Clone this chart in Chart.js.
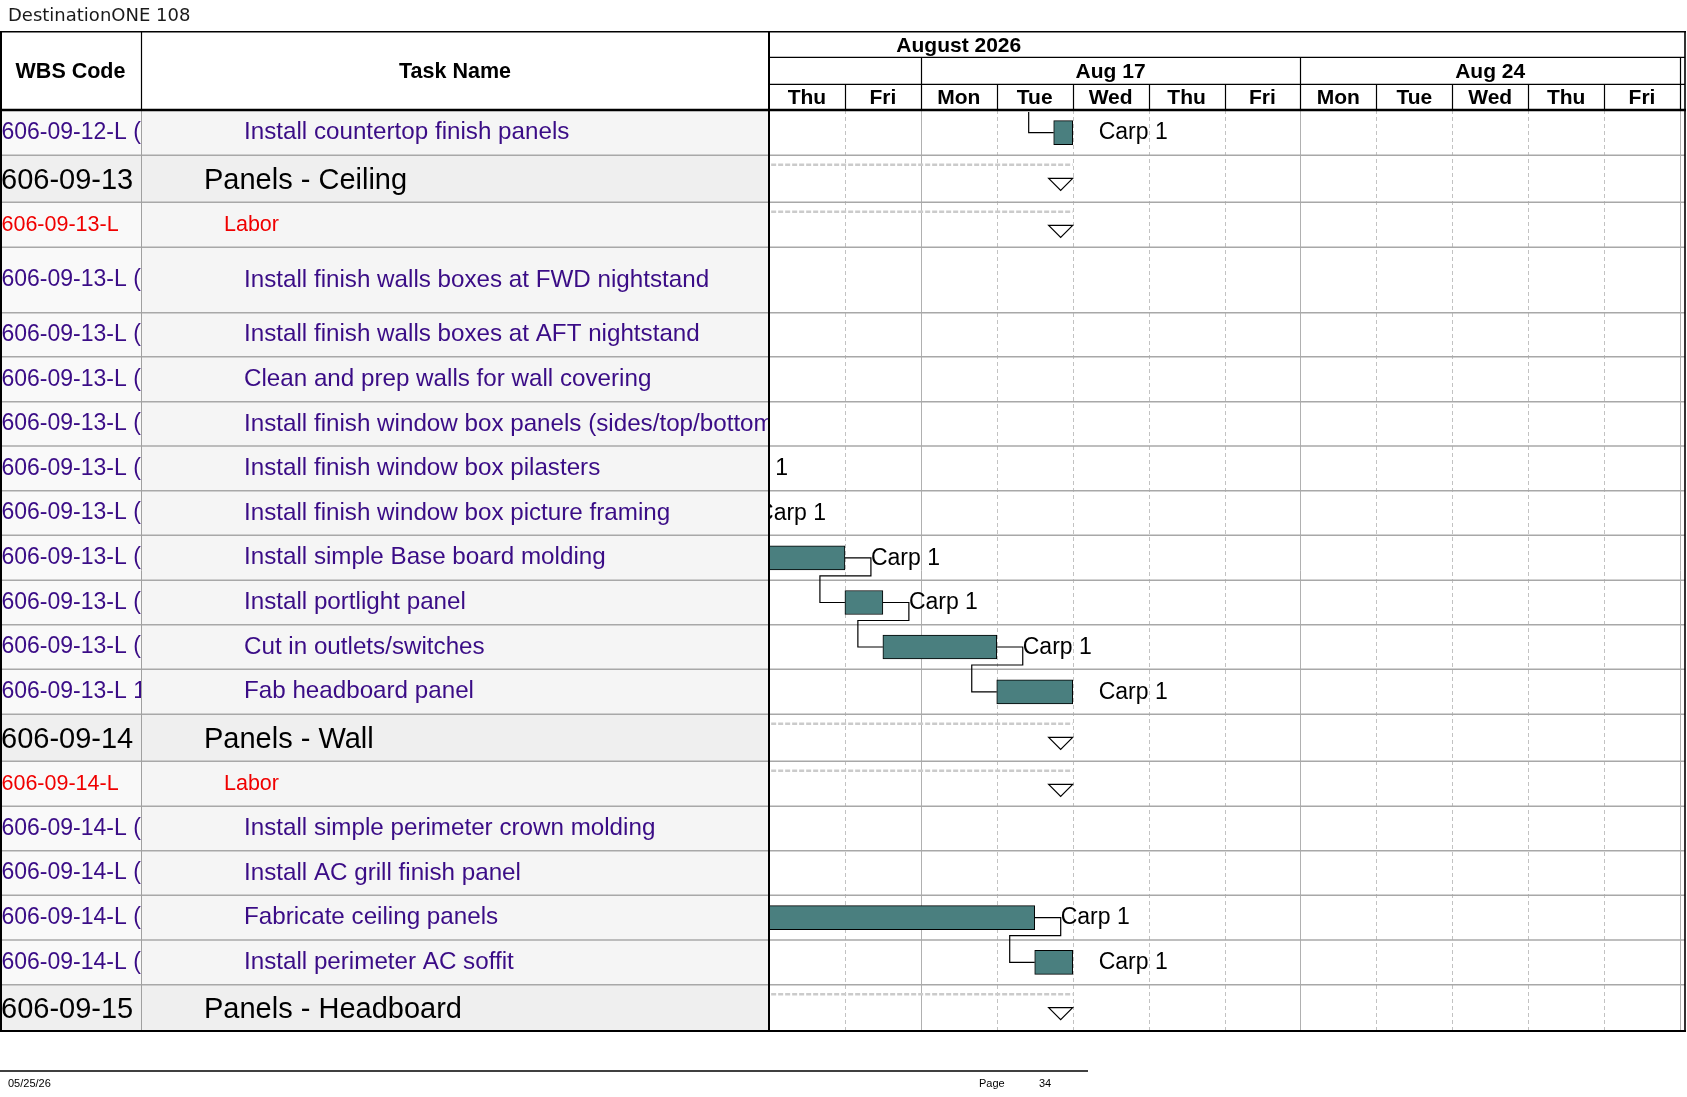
<!DOCTYPE html>
<html>
<head>
<meta charset="utf-8">
<script src="https://cdn.jsdelivr.net/npm/chart.js@4.4.1/dist/chart.umd.min.js"></script>
<style>
html,body{margin:0;padding:0;background:#fff;overflow:hidden}
canvas{display:block}
</style>
</head>
<body>
<canvas id="gantt" width="1687" height="1097"></canvas>
<script>
// rows of the page, top to bottom
var wbsCodes = ['606-09-12-L (', '606-09-13', '606-09-13-L', '606-09-13-L (', '606-09-13-L (',
  '606-09-13-L (', '606-09-13-L (', '606-09-13-L (', '606-09-13-L (', '606-09-13-L (',
  '606-09-13-L (', '606-09-13-L (', '606-09-13-L 1', '606-09-14', '606-09-14-L',
  '606-09-14-L (', '606-09-14-L (', '606-09-14-L (', '606-09-14-L (', '606-09-15'];
var taskNames = ['Install countertop finish panels', 'Panels - Ceiling', 'Labor',
  'Install finish walls boxes at FWD nightstand', 'Install finish walls boxes at AFT nightstand',
  'Clean and prep walls for wall covering', 'Install finish window box panels (sides/top/bottom)',
  'Install finish window box pilasters', 'Install finish window box picture framing',
  'Install simple Base board molding', 'Install portlight panel', 'Cut in outlets/switches',
  'Fab headboard panel', 'Panels - Wall', 'Labor', 'Install simple perimeter crown molding',
  'Install AC grill finish panel', 'Fabricate ceiling panels', 'Install perimeter AC soffit',
  'Panels - Headboard'];
var rowKinds = ['task', 'summary', 'labor', 'task', 'task', 'task', 'task', 'task', 'task', 'task',
  'task', 'task', 'task', 'summary', 'labor', 'task', 'task', 'task', 'task', 'summary'];

// bars, in working days from Thu Aug 13 (0) to end of Fri Aug 28 (12)
var barStart = [3.75, null, null, null, null, null, null, -1.5, -1, -0.5, 1, 1.5, 3, null, null, null, null, -1, 3.5, null];
var barEnd   = [4,    null, null, null, null, null, null, -1, -0.5, 1, 1.5, 3, 4, null, null, null, null, 3.5, 4, null];
var resources = ['Carp 1', '', '', '', '', '', '', 'Carp 1', 'Carp 1', 'Carp 1', 'Carp 1', 'Carp 1', 'Carp 1',
  '', '', '', '', 'Carp 1', 'Carp 1', ''];
var summaryStart  = [null, -2, -2, null, null, null, null, null, null, null, null, null, null, -2, -2, null, null, null, null, -2];
var summaryFinish = [null, 4, 4, null, null, null, null, null, null, null, null, null, null, 4, 4, null, null, null, null, 4];

// finish-to-start links [predecessor row, successor row]; -1 = from the previous page
var links = [[-1, 0], [7, 8], [8, 9], [9, 10], [10, 11], [11, 12], [17, 18]];

// timescale
var dayLabels = ['Thu', 'Fri', 'Mon', 'Tue', 'Wed', 'Thu', 'Fri', 'Mon', 'Tue', 'Wed', 'Thu', 'Fri'];
var weekLabels = ['Aug 17', 'Aug 24'];
var weekFrom = [2, 7];
var weekTo = [7, 12];
var monthLabel = 'August 2026';
var monthLabelAt = 2.5;

// layout (pixels)
var rowHeights = [45.3, 47, 45, 65.4, 44, 45, 44.3, 44.7, 44.6, 45, 44.4, 44.6, 45, 47, 45, 44.4, 44.6, 44.7, 44.7, 46.3];
var LAY = {wbsR: 141, ganttL: 769, ganttR: 1680, right: 1685, top: 31.7, monthB: 57.3, weekB: 84.3, headB: 110, bottom: 1031};

var rowTop = [];
var acc = 0;
rowHeights.forEach(function (h) { rowTop.push(acc); acc += h; });
var totalH = acc;
var rowMid = rowHeights.map(function (h, i) { return rowTop[i] + h / 2; });

var barData = [];
for (var i = 0; i < barStart.length; i++) {
  if (barStart[i] !== null) barData.push({x: [barStart[i], barEnd[i]], y: rowMid[i]});
}

var PURPLE = '#3a0c86';
var RED = '#f00000';
var F = '"Liberation Sans", Arial, sans-serif';

function line(ctx, x1, y1, x2, y2) {
  ctx.beginPath();
  ctx.moveTo(x1, y1);
  ctx.lineTo(x2, y2);
  ctx.stroke();
}

var ganttFrame = {
  id: 'ganttFrame',
  beforeDraw: function (chart) {
    var ctx = chart.ctx, xs = chart.scales.x, ys = chart.scales.y, a = chart.chartArea;
    ctx.save();
    ctx.fillStyle = '#fff';
    ctx.fillRect(0, 0, chart.width, chart.height);

    // table cells
    for (var r = 0; r < rowHeights.length; r++) {
      var t = ys.getPixelForValue(rowTop[r]);
      var b = ys.getPixelForValue(rowTop[r] + rowHeights[r]);
      if (rowKinds[r] === 'summary') {
        ctx.fillStyle = '#efefef';
        ctx.fillRect(0, t, LAY.ganttL, b - t);
      } else {
        ctx.fillStyle = '#f9f9f9';
        ctx.fillRect(0, t, LAY.wbsR, b - t);
        ctx.fillStyle = '#f5f5f5';
        ctx.fillRect(LAY.wbsR, t, LAY.ganttL - LAY.wbsR, b - t);
      }
    }

    // day grid in the gantt body
    ctx.lineWidth = 1;
    for (var d = 1; d <= dayLabels.length; d++) {
      var x = Math.round(xs.getPixelForValue(d)) + 0.5;
      var weekEdge = weekFrom.indexOf(d) >= 0 || weekTo.indexOf(d) >= 0;
      ctx.strokeStyle = weekEdge ? '#b0b0b0' : '#c2c2c2';
      ctx.setLineDash(weekEdge ? [] : [4, 3]);
      line(ctx, x, a.top, x, a.bottom);
    }
    ctx.setLineDash([]);

    // row lines
    ctx.strokeStyle = '#a8a8a8';
    ctx.lineWidth = 1.5;
    for (var r2 = 1; r2 < rowHeights.length; r2++) {
      var y = ys.getPixelForValue(rowTop[r2]);
      line(ctx, 0, y, LAY.right, y);
    }
    ctx.strokeStyle = '#a0a0a0';
    ctx.lineWidth = 1;
    line(ctx, LAY.wbsR + 0.5, a.top, LAY.wbsR + 0.5, a.bottom);
    ctx.restore();
  },

  beforeDatasetsDraw: function (chart) {
    var ctx = chart.ctx, xs = chart.scales.x, ys = chart.scales.y, a = chart.chartArea;
    ctx.save();
    ctx.beginPath();
    ctx.rect(a.left + 1, a.top, a.right - a.left + 6, a.bottom - a.top);
    ctx.clip();

    // summary spans
    ctx.strokeStyle = '#cbcbcb';
    ctx.lineWidth = 2.5;
    ctx.setLineDash([5, 2]);
    for (var r = 0; r < summaryFinish.length; r++) {
      if (summaryFinish[r] === null) continue;
      var y = ys.getPixelForValue(rowTop[r]) + 9.5;
      line(ctx, xs.getPixelForValue(summaryStart[r]), y, xs.getPixelForValue(summaryFinish[r]), y);
    }
    ctx.setLineDash([]);

    // links
    ctx.strokeStyle = '#000';
    ctx.lineWidth = 1.2;
    links.forEach(function (l) {
      var s = l[1];
      var sx = xs.getPixelForValue(barStart[s]);
      var sy = ys.getPixelForValue(rowMid[s]);
      ctx.beginPath();
      if (l[0] < 0) {
        ctx.moveTo(sx - 25, a.top + 2);
      } else {
        var p = l[0];
        var px = xs.getPixelForValue(barEnd[p]);
        var py = ys.getPixelForValue(rowMid[p]);
        var drop = py + 18;
        ctx.moveTo(px, py);
        ctx.lineTo(px + 26, py);
        ctx.lineTo(px + 26, drop);
        ctx.lineTo(sx - 25, drop);
      }
      ctx.lineTo(sx - 25, sy);
      ctx.lineTo(sx, sy);
      ctx.stroke();
    });

    // resource labels
    ctx.fillStyle = '#000';
    ctx.font = '23px ' + F;
    ctx.textBaseline = 'middle';
    ctx.textAlign = 'left';
    for (var k = 0; k < barEnd.length; k++) {
      if (barEnd[k] === null || !resources[k]) continue;
      ctx.fillText(resources[k], xs.getPixelForValue(barEnd[k]) + 26, ys.getPixelForValue(rowMid[k]) + 0.5);
    }
    ctx.restore();
  },

  afterDatasetsDraw: function (chart) {
    var ctx = chart.ctx, xs = chart.scales.x, ys = chart.scales.y, a = chart.chartArea;
    ctx.save();

    // summary finish markers
    ctx.strokeStyle = '#000';
    ctx.fillStyle = '#fff';
    ctx.lineWidth = 1.2;
    for (var r = 0; r < summaryFinish.length; r++) {
      if (summaryFinish[r] === null) continue;
      var fx = xs.getPixelForValue(summaryFinish[r]);
      var ty = ys.getPixelForValue(rowTop[r]) + 23;
      ctx.beginPath();
      ctx.moveTo(fx - 24, ty);
      ctx.lineTo(fx, ty);
      ctx.lineTo(fx - 12, ty + 12);
      ctx.closePath();
      ctx.fill();
      ctx.stroke();
    }

    // table text
    ctx.textBaseline = 'middle';
    ctx.textAlign = 'left';
    for (var i = 0; i < wbsCodes.length; i++) {
      var t = ys.getPixelForValue(rowTop[i]);
      var b = ys.getPixelForValue(rowTop[i] + rowHeights[i]);
      var m = ys.getPixelForValue(rowMid[i]);
      var kind = rowKinds[i];
      ctx.save();
      ctx.beginPath();
      ctx.rect(0, t, LAY.wbsR, b - t);
      ctx.clip();
      if (kind === 'summary') { ctx.font = '29px ' + F; ctx.fillStyle = '#000'; ctx.fillText(wbsCodes[i], 1, m + 2.5); }
      else if (kind === 'labor') { ctx.font = '21.5px ' + F; ctx.fillStyle = RED; ctx.fillText(wbsCodes[i], 1.5, m + 0.5); }
      else { ctx.font = '23px ' + F; ctx.fillStyle = PURPLE; ctx.fillText(wbsCodes[i], 1.5, m); }
      ctx.restore();

      ctx.save();
      ctx.beginPath();
      ctx.rect(LAY.wbsR, t, LAY.ganttL - LAY.wbsR, b - t);
      ctx.clip();
      if (kind === 'summary') { ctx.font = '29px ' + F; ctx.fillStyle = '#000'; ctx.fillText(taskNames[i], 204, m + 2.5); }
      else if (kind === 'labor') { ctx.font = '21.5px ' + F; ctx.fillStyle = RED; ctx.fillText(taskNames[i], 224, m + 0.5); }
      else { ctx.font = '24.2px ' + F; ctx.fillStyle = PURPLE; ctx.fillText(taskNames[i], 244, m); }
      ctx.restore();
    }

    // header text
    ctx.fillStyle = '#000';
    ctx.textAlign = 'center';
    ctx.font = 'bold 21.5px ' + F;
    ctx.fillText('WBS Code', LAY.wbsR / 2, 72.5);
    ctx.fillText('Task Name', (LAY.wbsR + LAY.ganttL) / 2, 72.5);
    ctx.font = 'bold 21px ' + F;
    ctx.fillText(monthLabel, xs.getPixelForValue(monthLabelAt), 46);
    for (var w = 0; w < weekLabels.length; w++) {
      ctx.fillText(weekLabels[w], (xs.getPixelForValue(weekFrom[w]) + xs.getPixelForValue(weekTo[w])) / 2, 72);
    }
    for (var d = 0; d < dayLabels.length; d++) {
      ctx.fillText(dayLabels[d], xs.getPixelForValue(d + 0.5), 98.5);
    }

    // header lines
    ctx.strokeStyle = '#000';
    ctx.lineWidth = 1.2;
    line(ctx, LAY.ganttL, LAY.monthB, LAY.right, LAY.monthB);
    line(ctx, LAY.ganttL, LAY.weekB, LAY.right, LAY.weekB);
    for (var w2 = 0; w2 < weekFrom.length; w2++) {
      var wx = Math.round(xs.getPixelForValue(weekFrom[w2])) + 0.5;
      line(ctx, wx, LAY.monthB, wx, LAY.weekB);
    }
    var ex = Math.round(xs.getPixelForValue(dayLabels.length)) + 0.5;
    line(ctx, ex, LAY.monthB, ex, LAY.headB);
    for (var d2 = 1; d2 < dayLabels.length; d2++) {
      var dx = Math.round(xs.getPixelForValue(d2)) + 0.5;
      line(ctx, dx, LAY.weekB, dx, LAY.headB);
    }
    line(ctx, LAY.wbsR + 0.5, LAY.top, LAY.wbsR + 0.5, LAY.headB);

    // frame
    ctx.lineWidth = 1.6;
    line(ctx, 0, LAY.top, LAY.right + 1, LAY.top);
    line(ctx, LAY.right, LAY.top, LAY.right, LAY.bottom);
    ctx.lineWidth = 2;
    line(ctx, 1, LAY.top, 1, LAY.bottom);
    line(ctx, LAY.ganttL, LAY.top, LAY.ganttL, LAY.bottom);
    line(ctx, 0, LAY.bottom, LAY.right + 1, LAY.bottom);
    ctx.lineWidth = 2.6;
    line(ctx, 0, LAY.headB, LAY.right + 1, LAY.headB);

    // page title and footer
    ctx.textAlign = 'left';
    ctx.font = '18px "DejaVu Sans", sans-serif';
    ctx.fillStyle = '#1a1a1a';
    ctx.fillText('DestinationONE 108', 8, 16.5);
    ctx.lineWidth = 1.4;
    line(ctx, 0, 1071, 1088, 1071);
    ctx.font = '11px ' + F;
    ctx.fillStyle = '#000';
    ctx.fillText('05/25/26', 8, 1084);
    ctx.fillText('Page', 979, 1084);
    ctx.fillText('34', 1039, 1084);
    ctx.restore();
  }
};

var ctx = document.getElementById('gantt').getContext('2d');
var ganttChart = new Chart(ctx, {
  type: 'bar',
  data: {
    datasets: [{
      data: barData,
      backgroundColor: '#4a7f7f',
      borderColor: '#000',
      borderWidth: 1,
      borderSkipped: false,
      barThickness: 24,
      clip: 0
    }]
  },
  options: {
    indexAxis: 'y',
    responsive: false,
    animation: false,
    devicePixelRatio: 1,
    layout: {padding: {left: LAY.ganttL, right: 1687 - LAY.ganttR, top: LAY.headB, bottom: 1097 - LAY.bottom}},
    scales: {
      x: {type: 'linear', min: 0, max: dayLabels.length, display: false, offset: false},
      y: {type: 'linear', min: 0, max: totalH, reverse: true, display: false, offset: false}
    },
    plugins: {legend: {display: false}, tooltip: {enabled: false}}
  },
  plugins: [ganttFrame]
});
</script>
</body>
</html>
